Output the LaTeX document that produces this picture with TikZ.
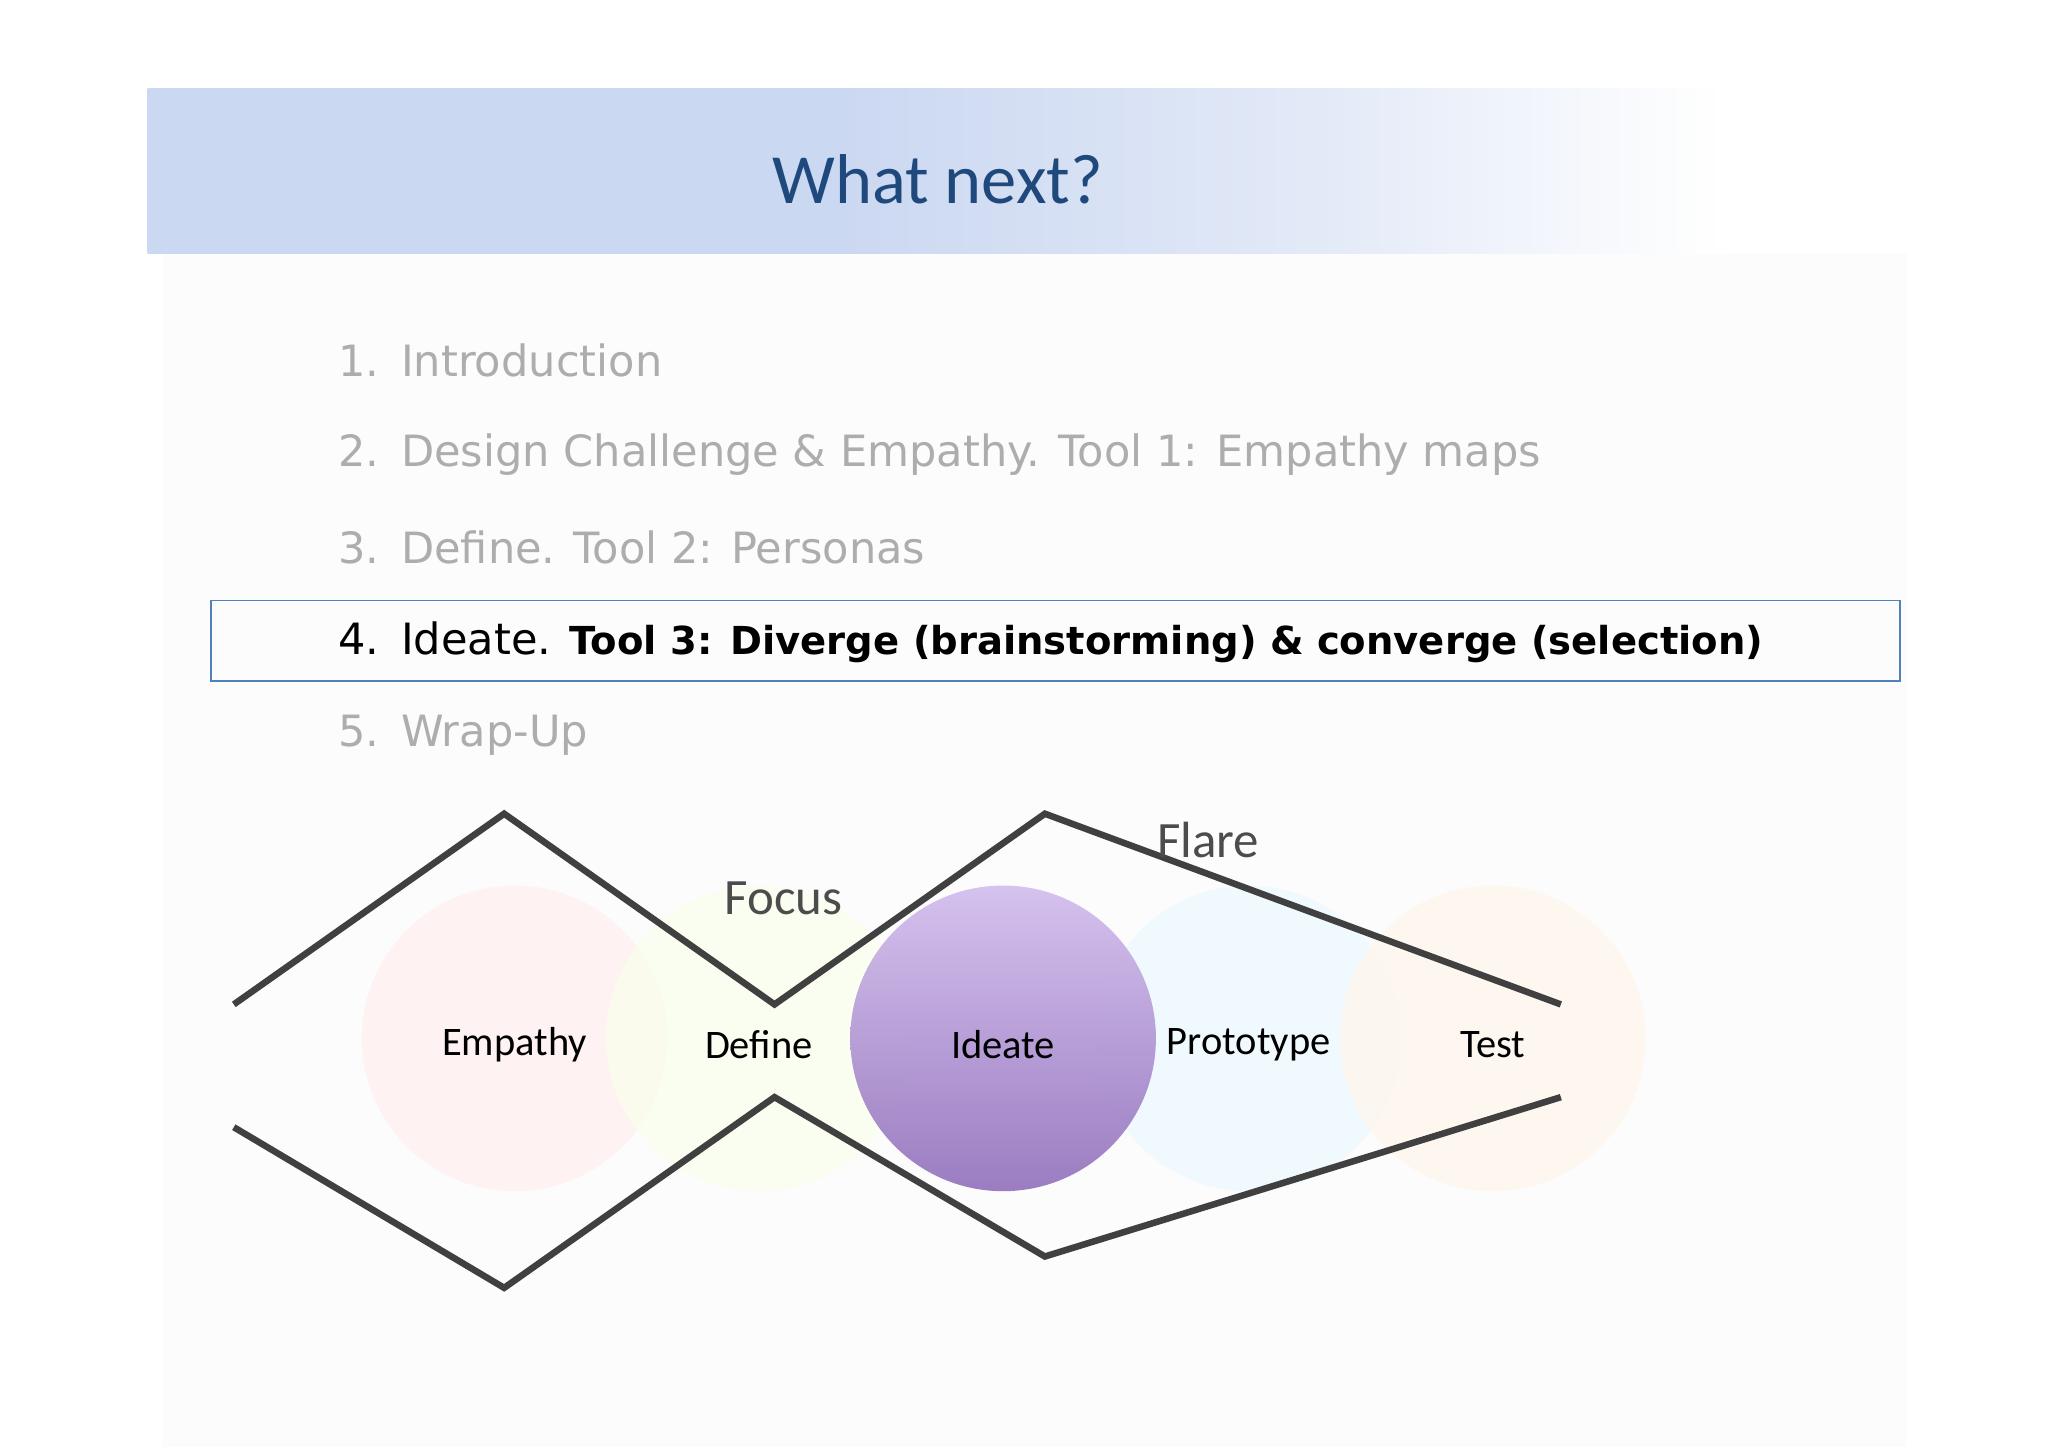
\documentclass[tikz,border=0pt]{standalone}
\usepackage{fontspec}
\setmainfont{Carlito}
\newfontfamily\verd{DejaVu Sans}
\definecolor{banner}{RGB}{203,216,241}
\pgfdeclarehorizontalshading{bannershade}{100bp}{color(0bp)=(banner); color(25bp)=(banner); color(47bp)=(banner); color(62bp)=(banner!55!white); color(75bp)=(white); color(100bp)=(white)}
\begin{document}
\begin{tikzpicture}[x=1pt,y=-1pt,
  item/.style={anchor=west,text=black!32,font=\verd\fontsize{33}{38}\selectfont,inner sep=0},
  lbl/.style={font=\fontsize{31}{36}\selectfont,text=black},
  zig/.style={line width=5pt,draw=black!75,line join=miter},
  circ/.style={circle,minimum size=234pt,inner sep=0}]
\useasboundingbox (0,0) rectangle (1568,1108);
\fill[white] (0,0) rectangle (1568,1108);
\fill[black!1] (125,194) rectangle (1460,1108);
\shade[shading=bannershade] (113,68) rectangle (1320,194);
\node[font=\fontsize{54}{60}\selectfont,text={rgb,255:red,31;green,73;blue,125}] (title) at (718,137) {What next?};
\node[item] (i1) at (259,276) {1.\hspace{0.5em}Introduction};
\node[item] (i2) at (259,348) {2.\hspace{0.5em}Design Challenge \& Empathy. Tool 1: Empathy maps};
\node[item] (i3) at (259,419) {3.\hspace{0.5em}Define. Tool 2: Personas};
\node[draw={rgb,255:red,79;green,129;blue,189},line width=1.5pt,minimum width=1293pt,minimum height=62pt,anchor=north west] (box) at (161,459) {};
\node[item,text=black] (i4) at (259,492) {4.\hspace{0.5em}Ideate. {\fontsize{29.5}{34}\selectfont\bfseries Tool 3: Diverge (brainstorming) \& converge (selection)}};
\node[item] (i5) at (259,563) {5.\hspace{0.5em}Wrap-Up};
% circles
\node[circ,fill=red!6,opacity=0.8] (c1) at (394,795) {};
\node[circ,fill=green!25!yellow!8,opacity=0.7] (c2) at (581,795) {};
\node[circ,fill=cyan!7,opacity=0.8] (c4) at (956,795) {};
\node[circ,fill=orange!7,opacity=0.8] (c5) at (1143,795) {};
\shade[top color={rgb,255:red,211;green,191;blue,238},bottom color={rgb,255:red,150;green,118;blue,190},opacity=0.95] (768,795) circle (117);
\node[circ] (c3) at (768,795) {};
\node[lbl] at ([yshift=-5pt]c1.center) {Empathy};
\node[lbl] at ([yshift=-5pt]c2.center) {Define};
\node[lbl] at ([yshift=-5pt]c3.center) {Ideate};
\node[lbl] at ([yshift=-5pt]c4.center) {Prototype};
\node[lbl] at ([yshift=-5pt]c5.center) {Test};
% zigzags
\coordinate (t1) at (179,769); \coordinate (t2) at (386,623); \coordinate (t3) at (593,769);
\coordinate (t4) at (800,623); \coordinate (t5) at (1195,769);
\coordinate (b1) at (179,863); \coordinate (b2) at (386,986); \coordinate (b3) at (593,840);
\coordinate (b4) at (800,962); \coordinate (b5) at (1195,840);
\draw[zig] (t1) -- (t2) -- (t3) -- (t4) -- (t5);
\draw[zig] (b1) -- (b2) -- (b3) -- (b4) -- (b5);
\node[font=\fontsize{39}{44}\selectfont,text=black!70] (focus) at (600,688) {Focus};
\node[font=\fontsize{39}{44}\selectfont,text=black!70] (flare) at (925,643) {Flare};
\end{tikzpicture}
\end{document}
